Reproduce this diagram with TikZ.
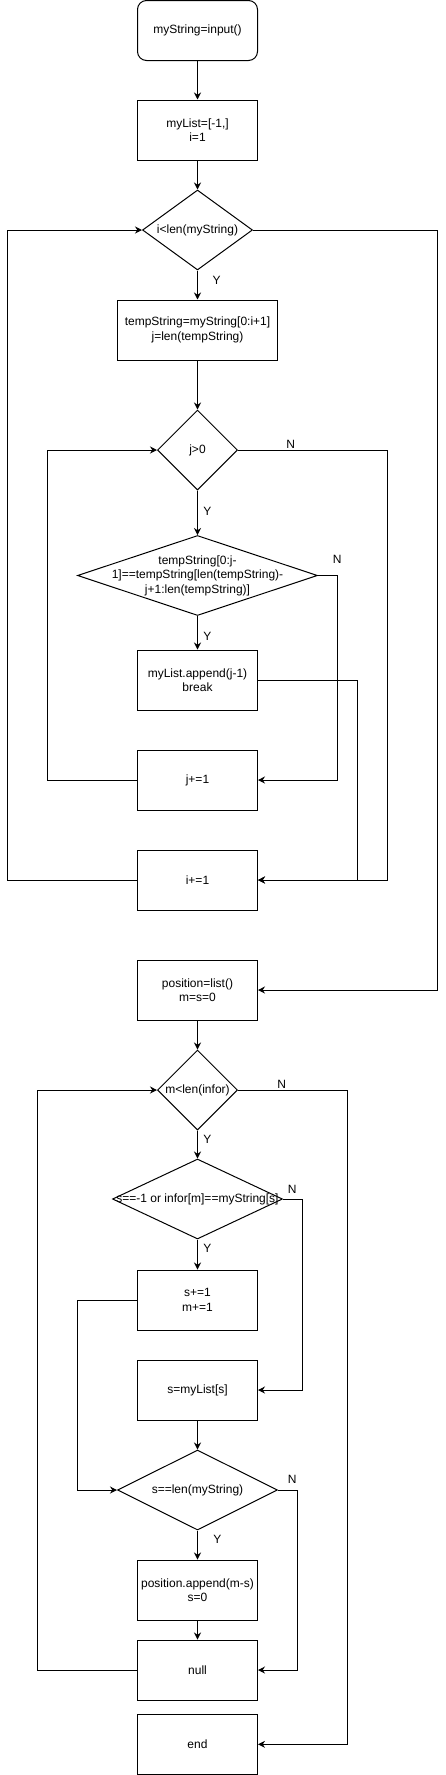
\documentclass[tikz,border=0pt]{standalone}
\usepackage{fontspec}
\setmainfont{Liberation Sans}
\usetikzlibrary{shapes.geometric,arrows.meta}
\begin{document}
\begin{tikzpicture}[x=1pt,y=-1pt,
  font=\fontsize{12}{14.4}\selectfont,
  line width=1pt,
  proc/.style={draw, rectangle, minimum width=120pt, minimum height=60pt, inner sep=0pt, align=center},
  decision/.style={draw, diamond, inner sep=0pt},
  dtext/.style={align=center, inner sep=0pt},
  flow/.style={-{Stealth[length=7pt,width=7pt]}},
  lbl/.style={inner sep=0pt}]
\useasboundingbox (0,0) rectangle (446,1775);

% nodes
\node[proc, rounded corners=9pt] (start) at (197.5,30.5) {myString=input()};
\node[proc] (init) at (197.5,130) {myList=[-1,]\\i=1};
\node[decision, minimum width=110pt, minimum height=80pt] (d1) at (197.5,230) {};
\node[dtext] (d1t) at (d1.center) {i<len(myString)};
\node[proc, minimum width=160pt] (temp) at (197.5,330) {tempString=myString[0:i+1]\\j=len(tempString)};
\node[decision, minimum width=80pt, minimum height=80pt] (d2) at (197.5,450) {};
\node[dtext] (d2t) at (d2.center) {j>0};
\node[decision, minimum width=240pt, minimum height=80pt] (d3) at (197.5,575.5) {};
\node[dtext] (d3t) at (d3.center) {tempString[0:j-\\1]==tempString[len(tempString)-\\j+1:len(tempString)]};
\node[proc] (app) at (197.5,680) {myList.append(j-1)\\break};
\node[proc] (jinc) at (197.5,780) {j+=1};
\node[proc] (iinc) at (197.5,880) {i+=1};
\node[proc] (pos) at (197.5,990) {position=list()\\m=s=0};
\node[decision, minimum width=80pt, minimum height=80pt] (d4) at (197.5,1090) {};
\node[dtext] (d4t) at (d4.center) {m<len(infor)};
\node[decision, minimum width=170pt, minimum height=80pt] (d5) at (197.5,1199) {};
\node[dtext] (d5t) at (d5.center) {s==-1 or infor[m]==myString[s]};
\node[proc] (sinc) at (197.5,1300) {s+=1\\m+=1};
\node[proc] (smy) at (197.5,1390) {s=myList[s]};
\node[decision, minimum width=160pt, minimum height=80pt] (d6) at (197.5,1490) {};
\node[dtext] (d6t) at (d6.center) {s==len(myString)};
\node[proc] (papp) at (197.5,1590) {position.append(m-s)\\s=0};
\node[proc] (null) at (197.5,1670) {null};
\node[proc] (end) at (197.5,1744.3) {end};

% edge labels
\node[lbl] (y1) at (216.7,280) {Y};
\node[lbl] (y2) at (207.3,511) {Y};
\node[lbl] (n2) at (290.7,444.5) {N};
\node[lbl] (n3) at (337.3,559.5) {N};
\node[lbl] (y3) at (207.3,636) {Y};
\node[lbl] (y4) at (207.3,1139.5) {Y};
\node[lbl] (n4) at (281.7,1084.5) {N};
\node[lbl] (n5) at (292.3,1189.5) {N};
\node[lbl] (y5) at (207.3,1248.5) {Y};
\node[lbl] (n6) at (292.3,1479.5) {N};
\node[lbl] (y6) at (217.3,1539.5) {Y};

% rail coordinates
\coordinate (rD1) at (437.3,230);
\coordinate (rD2) at (387.3,450);
\coordinate (rD3) at (337.3,575.5);
\coordinate (rApp) at (357.3,680);
\coordinate (rJ) at (47.7,780);
\coordinate (rI) at (7.3,880);
\coordinate (rD4) at (347.3,1090);
\coordinate (rD5) at (302.3,1199);
\coordinate (rS) at (77.3,1300);
\coordinate (rD6) at (297.3,1490);
\coordinate (rN) at (37.3,1670);

% connectors
\draw[flow] (start) -- (init);
\draw[flow] (init) -- (d1);
\draw[flow] (d1) -- (temp);
\draw[flow] (temp) -- (d2);
\draw[flow] (d2) -- (d3);
\draw[flow] (d3) -- (app);
\draw[flow] (d2.east) -- (rD2) |- (iinc.east);
\draw[flow] (d3.east) -- (rD3) |- (jinc.east);
\draw[flow] (app.east) -- (rApp) |- (iinc.east);
\draw[flow] (jinc.west) -- (rJ) |- (d2.west);
\draw[flow] (iinc.west) -- (rI) |- (d1.west);
\draw[flow] (d1.east) -- (rD1) |- (pos.east);
\draw[flow] (pos) -- (d4);
\draw[flow] (d4) -- (d5);
\draw[flow] (d4.east) -- (rD4) |- (end.east);
\draw[flow] (d5) -- (sinc);
\draw[flow] (d5.east) -- (rD5) |- (smy.east);
\draw[flow] (sinc.west) -- (rS) |- (d6.west);
\draw[flow] (smy) -- (d6);
\draw[flow] (d6) -- (papp);
\draw[flow] (d6.east) -- (rD6) |- (null.east);
\draw[flow] (papp) -- (null);
\draw[flow] (null.west) -- (rN) |- (d4.west);
\end{tikzpicture}
\end{document}
